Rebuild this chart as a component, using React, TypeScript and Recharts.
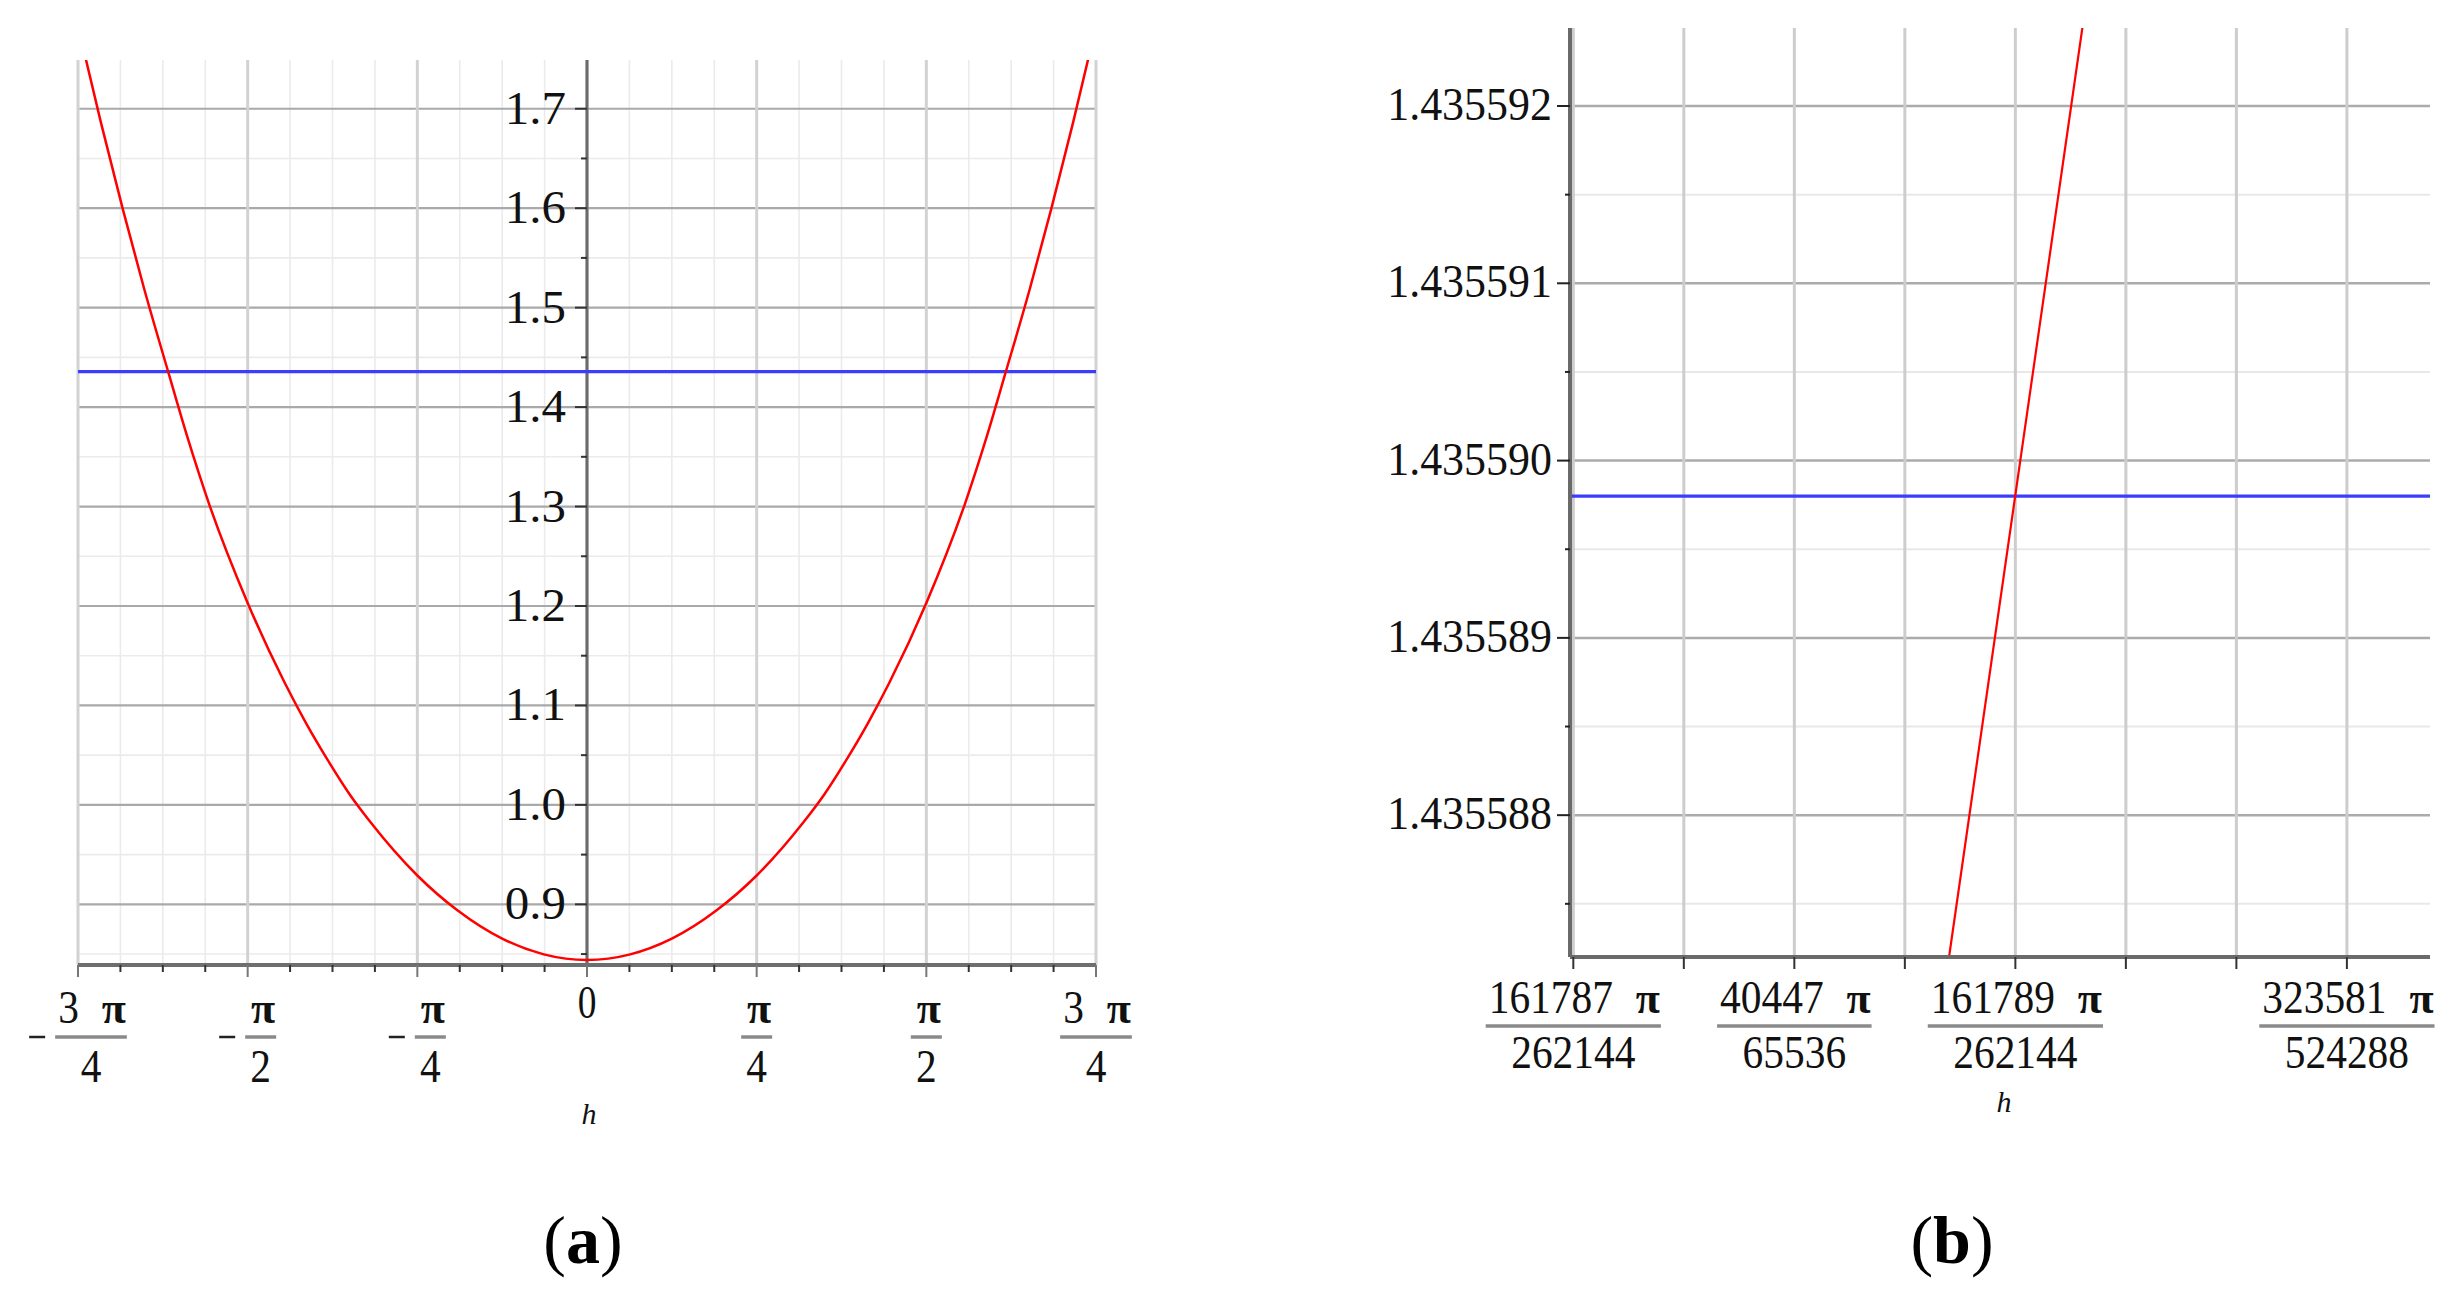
import React from 'react';
import { LineChart, Line, XAxis, YAxis, CartesianGrid, ReferenceLine, ReferenceDot } from 'recharts';

const PI = Math.PI;
const FONT = "'Liberation Serif', 'Times New Roman', serif";
const CELL = 20.7;

// ---------- Panel (a) data ----------
const hValuesA = [-2.3562, -2.25, -2.15, -2.05, -1.9389, -1.85, -1.75, -1.5708, -1.4, -1.3, -1.2, -1.1, -1.0, -0.7854, -0.6, -0.3927, -0.2, 0,
  0.2, 0.3927, 0.6, 0.7854, 1.0, 1.1, 1.2, 1.3, 1.4, 1.5708, 1.75, 1.85, 1.9389, 2.05, 2.15, 2.25, 2.3562];
const fValuesA = [1.783, 1.686, 1.6, 1.519, 1.4356, 1.37, 1.303, 1.203, 1.123, 1.082, 1.045, 1.011, 0.982, 0.929, 0.894, 0.8655, 0.8497, 0.844,
  0.8497, 0.8655, 0.894, 0.929, 0.982, 1.011, 1.045, 1.082, 1.123, 1.203, 1.303, 1.37, 1.4356, 1.519, 1.6, 1.686, 1.783];
const blueLevel = 1.4355898;

const aXDomain = [-3 * PI / 4, 3 * PI / 4];
const aYDomain = [0.839, 1.749];
const aTicksX = Array.from({ length: 25 }, (_, i) => (i - 12) * PI / 16);
const aMajorX = [-3 * PI / 4, -PI / 2, -PI / 4, 0, PI / 4, PI / 2, 3 * PI / 4];
const aMajorSign = [true, true, true, false, false, false, false];
const aMajorCoef = ['3', '', '', '0', '', '', '3'];
const aMajorDen = ['4', '2', '4', '', '4', '2', '4'];
const aMajorY = [0.9, 1.0, 1.1, 1.2, 1.3, 1.4, 1.5, 1.6, 1.7];
const aMinorY = [0.85, 0.95, 1.05, 1.15, 1.25, 1.35, 1.45, 1.55, 1.65];

// ---------- Panel (b) data ----------
const bXDomain = [161786.985, 161790.876];
const bYDomain = [1.4355872, 1.43559244];
const bTicksX = [161787, 161787.5, 161788, 161788.5, 161789, 161789.5, 161790, 161790.5];
const bLabelK = [161787, 161788, 161789, 161790.5];
const bLabelNum = ['161787', '40447', '161789', '323581'];
const bLabelDen = ['262144', '65536', '262144', '524288'];
const bMajorY = [1.435588, 1.435589, 1.43559, 1.435591, 1.435592];
const bMinorY = [1.4355875, 1.4355885, 1.4355895, 1.4355905, 1.4355915];
const bRedK = [161788.70, 161789.31];
const bRedF = [1.4355872, 1.4355925];

const curveA = hValuesA.map((h, i) => ({ h, f: fValuesA[i] }));
const blueA = [{ h: aXDomain[0], f: blueLevel }, { h: aXDomain[1], f: blueLevel }];
const curveB = bRedK.map((k, i) => ({ k, f: bRedF[i] }));
const blueB = [{ k: bXDomain[0], f: blueLevel }, { k: bXDomain[1], f: blueLevel }];
const bTicksY = [...bMajorY, ...bMinorY].sort((a, b) => a - b);

const Txt = ({ x, y, s, w, anchor = 'start', bold = false, size = 46 }: any) => (
  <text x={x} y={y} textAnchor={anchor} fontFamily={FONT} fontSize={size} fontWeight={bold ? 'bold' : 'normal'}
    fill="#111" textLength={w} lengthAdjust="spacingAndGlyphs">{s}</text>
);

// Fraction label: [-] coef π / den
const Frac = ({ x, y, neg, coef, den, numDy, barDy, denDy }: any) => {
  const coefW = coef.length * CELL;
  const piW = 25;
  const gap = coef ? 20 : 0;
  const numW = coefW + gap + piW;
  const barW = numW + 6;
  const minusW = 16, minusGap = 10;
  const total = neg ? minusW + minusGap + barW : barW;
  const start = x - total / 2;
  const barL = neg ? start + minusW + minusGap : start;
  const barR = barL + barW;
  return (
    <g>
      {neg && <line x1={start} x2={start + minusW} y1={y + barDy} y2={y + barDy} stroke="#222" strokeWidth={2.5} />}
      {coef && <Txt x={barL + 3} y={y + numDy} s={coef} w={coefW} />}
      <text x={barR - 1} y={y + numDy} textAnchor="end" fontFamily={FONT} fontSize={44} fontWeight="bold" fill="#111">π</text>
      <line x1={barL} x2={barR} y1={y + barDy} y2={y + barDy} stroke="#8a8a8a" strokeWidth={3.5} />
      <Txt x={(barL + barR) / 2} y={y + denDy} s={den} w={den.length * CELL} anchor="middle" />
    </g>
  );
};

const AXTick = (props: any) => {
  const { x, y, payload } = props;
  const v = payload.value;
  const idx = aMajorX.findIndex((t) => Math.abs(t - v) < 1e-9);
  const major = idx >= 0;
  return (
    <g>
      <line x1={x} x2={x} y1={y} y2={y + (major ? 12 : 7)} stroke={major ? '#777' : '#333'} strokeWidth={2} />
      {major && aMajorDen[idx] === '' && <Txt x={x} y={y + 53} s={aMajorCoef[idx]} w={CELL - 2} anchor="middle" />}
      {major && aMajorDen[idx] !== '' && (
        <Frac x={x} y={y} neg={aMajorSign[idx]} coef={aMajorCoef[idx]} den={aMajorDen[idx]} numDy={58} barDy={72} denDy={117} />
      )}
    </g>
  );
};

const BXTick = (props: any) => {
  const { x, y, payload } = props;
  const v = payload.value;
  const idx = bLabelK.findIndex((t) => Math.abs(t - v) < 1e-6);
  return (
    <g>
      <line x1={x} x2={x} y1={y} y2={y + 12} stroke="#333" strokeWidth={2} />
      {idx >= 0 && <Frac x={x} y={y} neg={false} coef={bLabelNum[idx]} den={bLabelDen[idx]} numDy={56} barDy={69} denDy={111} />}
    </g>
  );
};

const BYTick = (props: any) => {
  const { x, y, payload } = props;
  const v = payload.value;
  const major = bMajorY.some((t) => Math.abs(t - v) < 1e-10);
  const s = v.toFixed(6);
  return (
    <g>
      <line x1={x - (major ? 13 : 5)} x2={x} y1={y} y2={y} stroke="#222" strokeWidth={2} />
      {major && <Txt x={x - 18} y={y + 14} s={s} w={s.length * 20.6} anchor="end" />}
    </g>
  );
};

const aYMark = (v: number, major: boolean) => (p: any) => (
  <g>
    <line x1={p.cx - (major ? 12 : 6)} x2={p.cx} y1={p.cy} y2={p.cy} stroke="#333" strokeWidth={2} />
    {major && <Txt x={p.cx - 21} y={p.cy + 15} s={v.toFixed(1)} w={3 * 20.4} anchor="end" />}
  </g>
);

const aMinorXOnly = aTicksX.filter((t) => !aMajorX.some((m) => Math.abs(m - t) < 1e-9));

export default function App() {
  return (
    <div style={{ position: 'relative', width: 2462, height: 1314, background: '#fff' }}>
      <style>{`body{margin:0;background:#fff}`}</style>
      <div style={{ position: 'absolute', left: 0, top: 0 }}>
        <LineChart width={1200} height={1160} margin={{ top: 60, right: 104, bottom: 0, left: 78 }}>
          <CartesianGrid horizontalValues={aMinorY} verticalValues={aMinorXOnly} stroke="#ebebeb" strokeWidth={1.6} />
          <CartesianGrid vertical={false} horizontalValues={aMajorY} stroke="#a9a9a9" strokeWidth={2.2} />
          <CartesianGrid horizontal={false} verticalValues={aMajorX} stroke="#d2d2d2" strokeWidth={3} />
          <XAxis type="number" dataKey="h" domain={aXDomain} ticks={aTicksX} interval={0} tick={<AXTick />}
            tickLine={false} tickSize={0} tickMargin={0} height={195} allowDataOverflow
            axisLine={{ stroke: '#6e6e6e', strokeWidth: 4 }} />
          <YAxis hide type="number" dataKey="f" domain={aYDomain} allowDataOverflow />
          <ReferenceLine x={0} stroke="#6b6b6b" strokeWidth={3} />
          {aMajorY.map((v) => <ReferenceDot key={'M' + v} x={0} y={v} r={0} shape={aYMark(v, true)} />)}
          {aMinorY.map((v) => <ReferenceDot key={'m' + v} x={0} y={v} r={0} shape={aYMark(v, false)} />)}
          <Line data={blueA} dataKey="f" type="linear" stroke="#3c3cff" strokeWidth={3.2} dot={false} isAnimationActive={false} />
          <Line data={curveA} dataKey="f" type="monotone" stroke="#ff0000" strokeWidth={2.5} dot={false} isAnimationActive={false} />
        </LineChart>
      </div>
      <div style={{ position: 'absolute', left: 1300, top: 0 }}>
        <LineChart width={1162} height={1160} margin={{ top: 28, right: 32, bottom: 0, left: 0 }}>
          <CartesianGrid vertical={false} horizontalValues={bMinorY} stroke="#e8e8e8" strokeWidth={2} />
          <CartesianGrid vertical={false} horizontalValues={bMajorY} stroke="#ababab" strokeWidth={2.5} />
          <CartesianGrid horizontal={false} verticalValues={bTicksX} stroke="#cdcdcd" strokeWidth={3} />
          <XAxis type="number" dataKey="k" domain={bXDomain} ticks={bTicksX} interval={0} tick={<BXTick />}
            tickLine={false} tickSize={0} tickMargin={0} height={203} allowDataOverflow
            axisLine={{ stroke: '#6a6a6a', strokeWidth: 4 }} />
          <YAxis type="number" dataKey="f" domain={bYDomain} ticks={bTicksY} interval={0} tick={<BYTick />}
            tickLine={false} tickSize={0} tickMargin={0} width={270} allowDataOverflow
            axisLine={{ stroke: '#6a6a6a', strokeWidth: 4 }} />
          <Line data={blueB} dataKey="f" type="linear" stroke="#3c3cff" strokeWidth={3.2} dot={false} isAnimationActive={false} />
          <Line data={curveB} dataKey="f" type="linear" stroke="#ff0000" strokeWidth={2.2} dot={false} isAnimationActive={false} />
        </LineChart>
      </div>
      <svg width={2462} height={1314} style={{ position: 'absolute', left: 0, top: 0, pointerEvents: 'none' }}>
        <text x={589} y={1124} textAnchor="middle" fontFamily={FONT} fontStyle="italic" fontSize={30} fill="#111">h</text>
        <text x={2004} y={1112} textAnchor="middle" fontFamily={FONT} fontStyle="italic" fontSize={30} fill="#111">h</text>
        <text x={583} y={1263} textAnchor="middle" fontFamily={FONT} fontSize={68} fill="#000">
          <tspan>(</tspan><tspan fontWeight="bold">a</tspan><tspan>)</tspan>
        </text>
        <text x={1952} y={1263} textAnchor="middle" fontFamily={FONT} fontSize={68} fill="#000">
          <tspan>(</tspan><tspan fontWeight="bold">b</tspan><tspan>)</tspan>
        </text>
      </svg>
    </div>
  );
}
